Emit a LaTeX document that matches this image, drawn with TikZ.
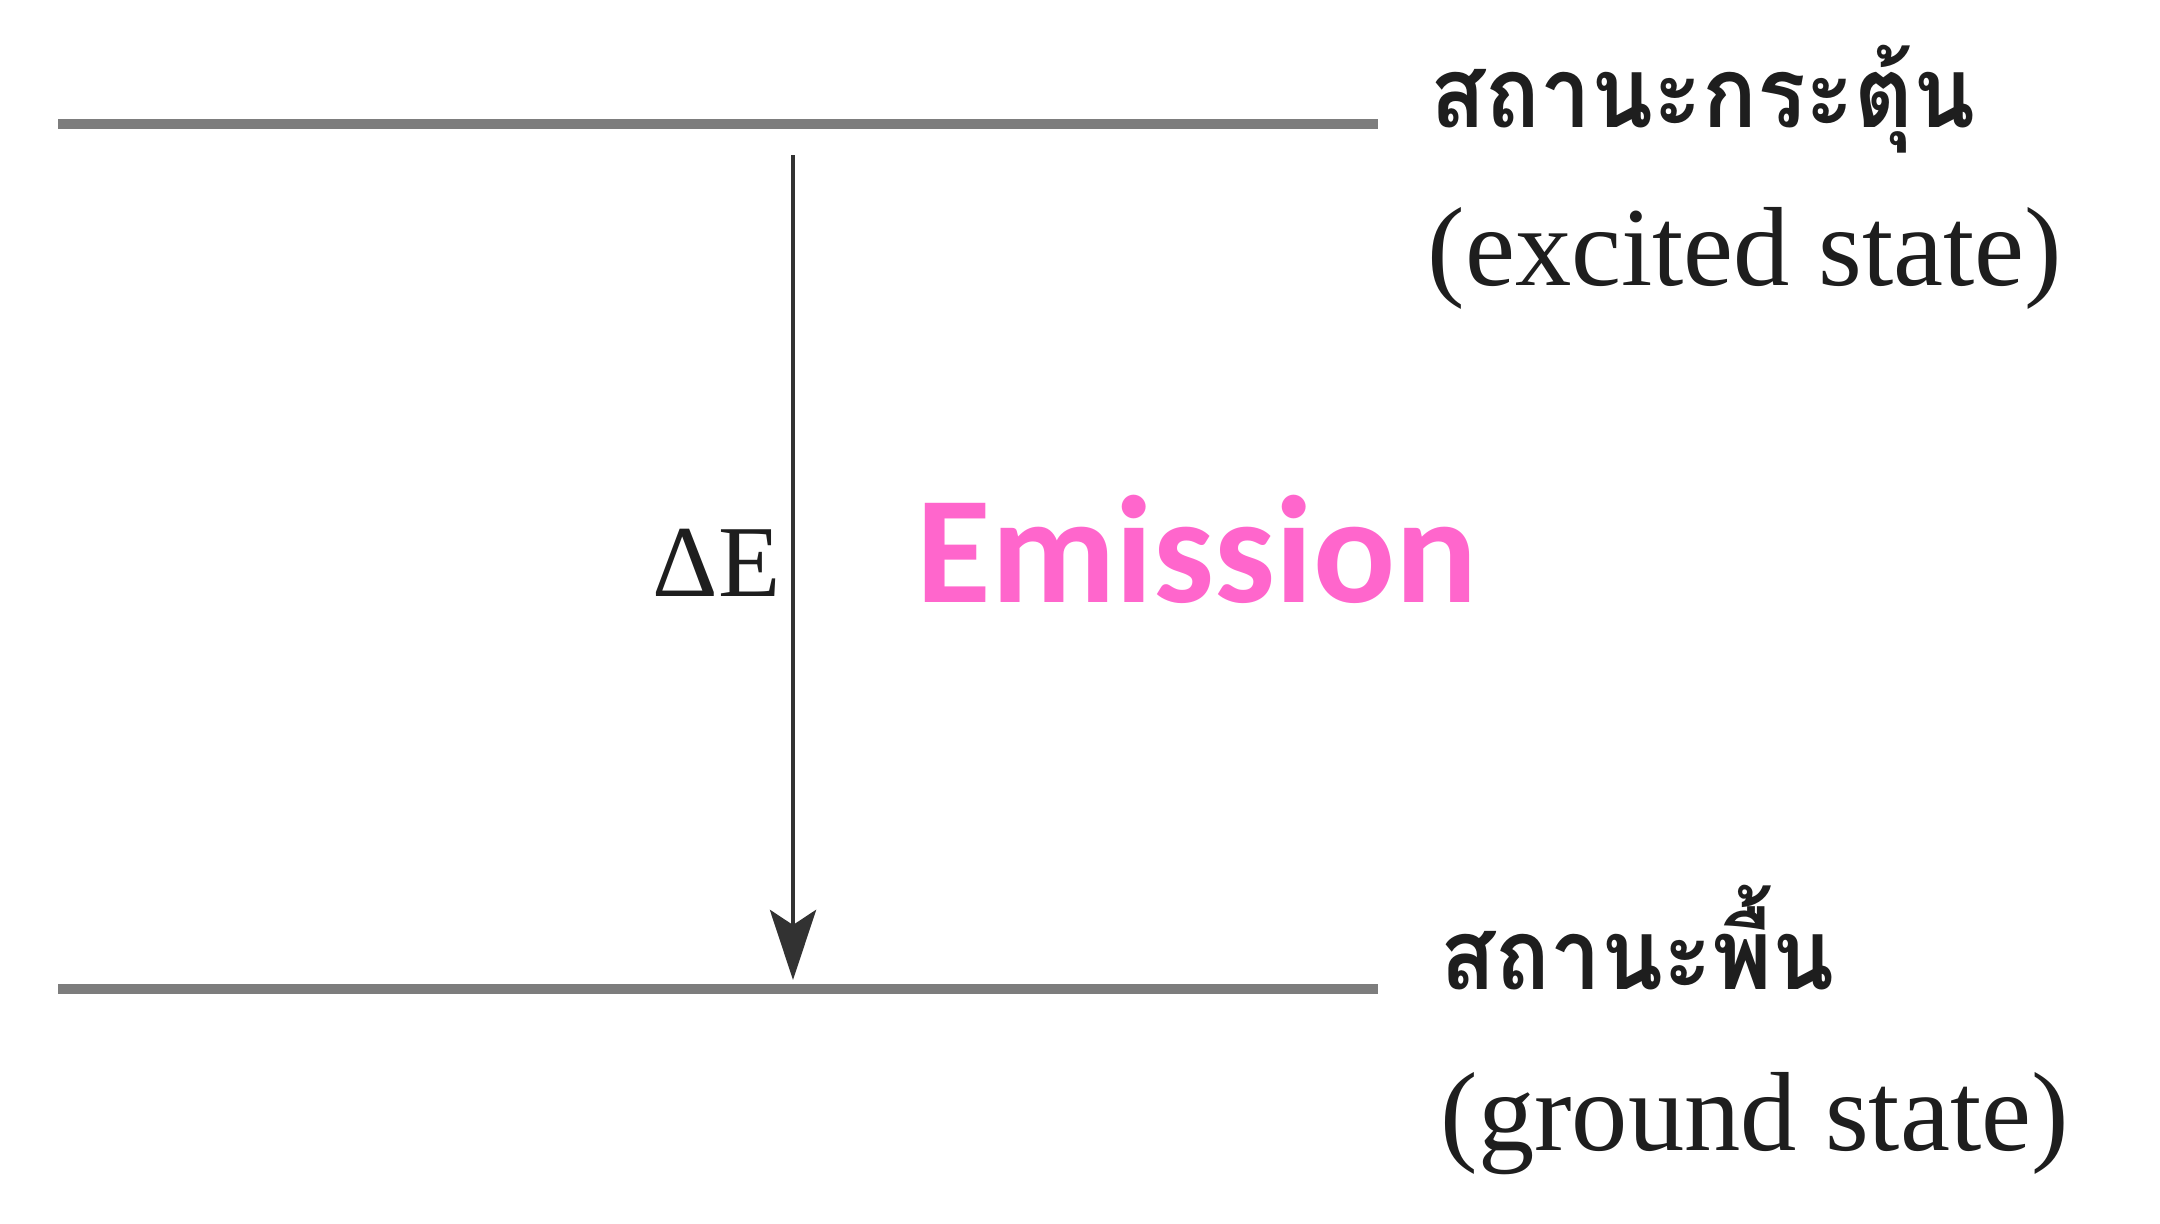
\documentclass[tikz,border=0pt]{standalone}
\usepackage{fontspec}
\setmainfont{Liberation Serif}
\newfontfamily\thaifont[Script=Thai,FakeStretch=0.92]{Loma}
\newfontfamily\calfont{Carlito}
\usetikzlibrary{arrows.meta,positioning}
\definecolor{EmGray}{RGB}{125,125,125}
\definecolor{EmDark}{RGB}{50,50,50}
\definecolor{EmInk}{RGB}{30,30,30}
\definecolor{EmPink}{RGB}{255,102,204}
\tikzset{
  em/level/.style={draw=EmGray, line width=2.8pt},
  em/arrow/.style={-{Stealth[length=7mm,width=4.6mm,inset=1.5mm]}, line width=1.4pt, draw=EmDark},
  em/thai/.style={anchor=base west, inner sep=0pt, text=EmInk, font=\thaifont\bfseries\fontsize{28}{34}\selectfont},
  em/eng/.style={anchor=base west, inner sep=0pt, text=EmInk, font=\fontsize{32}{38}\selectfont},
  em/delta/.style={anchor=base west, inner sep=0pt, text=EmInk, font=\fontsize{29}{35}\selectfont},
  em/title/.style={anchor=base west, inner sep=0pt, text=EmPink, font=\calfont\bfseries\fontsize{43.5}{52}\selectfont}
}
\begin{document}
\begin{tikzpicture}[x=0.01cm,y=-0.01cm]
  \useasboundingbox (0,0) rectangle (2160,1224);
  % energy levels
  \coordinate (excL) at (58,124);
  \coordinate (excR) at (1378,124);
  \coordinate (gndL) at (58,989);
  \coordinate (gndR) at (1378,989);
  \draw[em/level] (excL) -- (excR);
  \draw[em/level] (gndL) -- (gndR);
  % transition
  \coordinate (emTop) at (793,155);
  \coordinate (emTip) at (793,980);
  \draw[em/arrow] (emTop) -- (emTip);
  \node[em/delta] (dE) at (652,596) {ΔE};
  \node[em/title] (emis) at (916,602) {Emission};
  % level labels
  \node[em/thai] (excTh) at (1430,127) {สถานะกระตุ้น};
  \node[em/eng] (excEn) at (1427,285) {(excited state)};
  \node[em/thai] (gndTh) at (1440,989) {สถานะพื้น};
  \node[em/eng] (gndEn) at (1440,1150) {(ground state)};
\end{tikzpicture}
\end{document}
